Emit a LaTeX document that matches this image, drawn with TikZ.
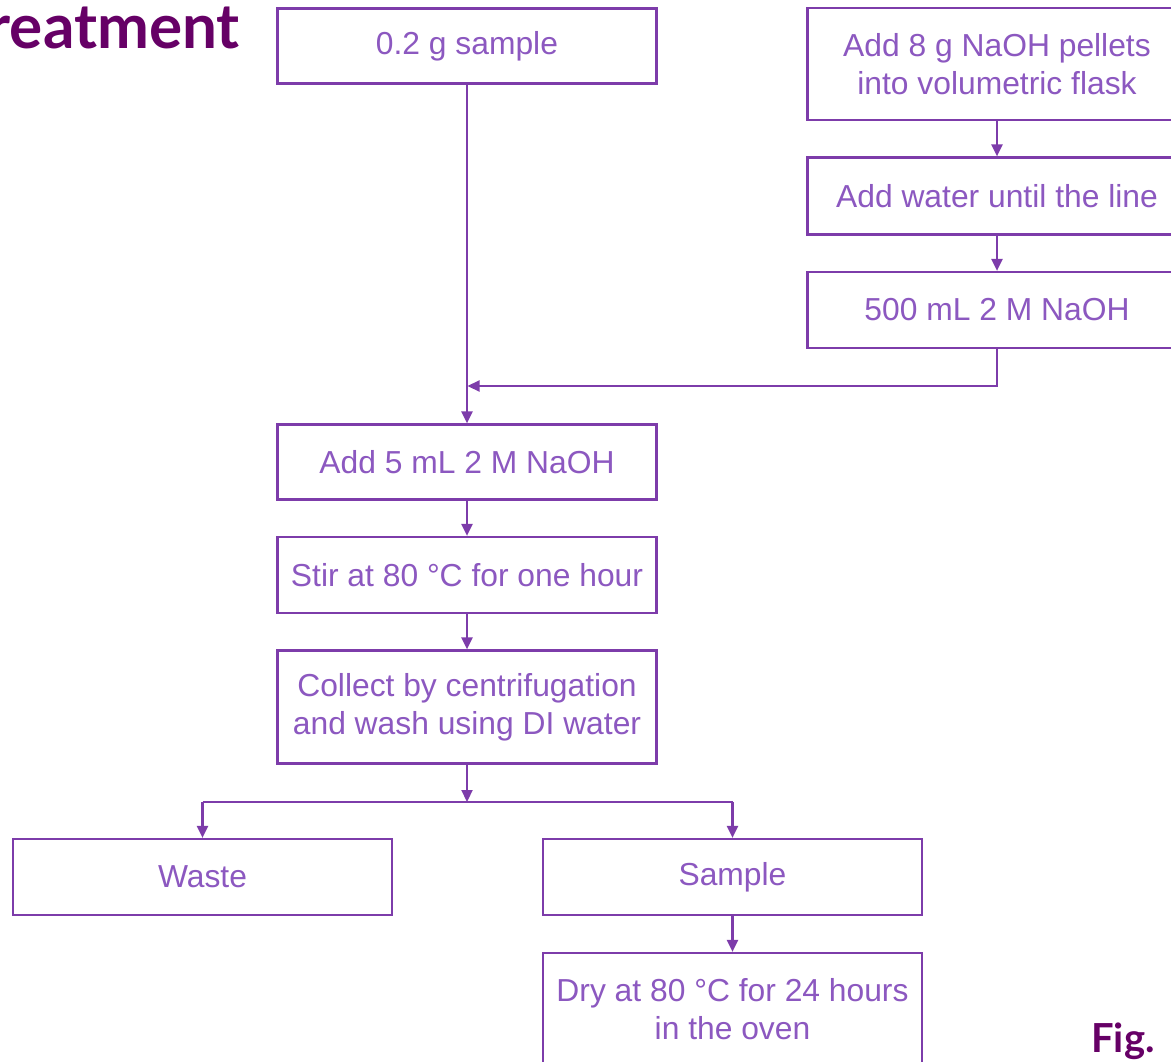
\documentclass[tikz,border=0pt]{standalone}
\usepackage{fontspec}
\setmainfont{Liberation Sans}
\newfontfamily\headfont{Lato}
\usetikzlibrary{arrows.meta}
\definecolor{boxline}{RGB}{125,60,170}
\definecolor{boxtext}{RGB}{140,88,192}
\definecolor{headcol}{RGB}{102,0,102}
\tikzset{
  stepbox/.style={draw=boxline, line width=2.2pt, fill=white, minimum width=379pt,
    inner sep=0pt, align=center, text=boxtext,
    font=\fontsize{31.8}{38}\selectfont},
  flow/.style={draw=boxline, line width=2.2pt,
    -{Triangle[length=12pt,width=11pt]}},
  plain/.style={draw=boxline, line width=2.2pt},
  headtext/.style={text=headcol, inner sep=0pt,
    font=\headfont\bfseries\fontsize{62}{64}\selectfont},
  figtext/.style={text=headcol, inner sep=0pt,
    font=\headfont\bfseries\fontsize{40}{44}\selectfont}
}
\begin{document}
\begin{tikzpicture}[x=1pt,y=-1pt]
\useasboundingbox (0,0) rectangle (1171,1062);
\clip (0,0) rectangle (1171,1062);

% heading fragments
\node[headtext, anchor=base east] (head) at (240,49) {reatment};
\node[figtext, anchor=base west] (fig) at (1091,1052) {Fig.};

% main column
\node[stepbox, minimum height=75pt] (s1) at (467,46) {0.2 g sample};
\node[stepbox, minimum height=75pt] (s2) at (467,462) {Add 5 mL 2 M NaOH};
\node[stepbox, minimum height=76pt] (s3) at (467,575) {Stir at 80 °C for one hour};
\node[stepbox, minimum height=113pt] (s4) at (467,707) {Collect by centrifugation\\and wash using DI water};

% NaOH solution preparation
\node[stepbox, minimum height=112pt] (n1) at (997,64) {Add 8 g NaOH pellets\\into volumetric flask};
\node[stepbox, minimum height=77pt] (n2) at (997,196) {Add water until the line};
\node[stepbox, minimum height=76pt] (n3) at (997,310) {500 mL 2 M NaOH};

% outputs
\node[stepbox, minimum height=76pt] (waste) at (202.5,877) {Waste};
\node[stepbox, minimum height=76pt] (sample) at (732.5,877) {Sample};
\node[stepbox, minimum height=113pt] (dry) at (732.5,1009.5) {Dry at 80 °C for 24 hours\\in the oven};

% junction points
\coordinate (join) at (467,386);
\coordinate (split) at (467,802);
\coordinate (splitL) at (202.5,802);
\coordinate (splitR) at (732.5,802);

% connectors
\draw[flow] (n1.south) -- (n2.north);
\draw[flow] (n2.south) -- (n3.north);
\draw[flow, shorten >=0.5pt] (n3.south) |- (join);
\draw[flow] (s1.south) -- (s2.north);
\draw[flow] (s2.south) -- (s3.north);
\draw[flow] (s3.south) -- (s4.north);
\draw[flow] (s4.south) -- (split);
\draw[plain] (splitL) -- (splitR);
\draw[flow] (splitL) -- (waste.north);
\draw[flow] (splitR) -- (sample.north);
\draw[flow] (sample.south) -- (dry.north);
\end{tikzpicture}
\end{document}
